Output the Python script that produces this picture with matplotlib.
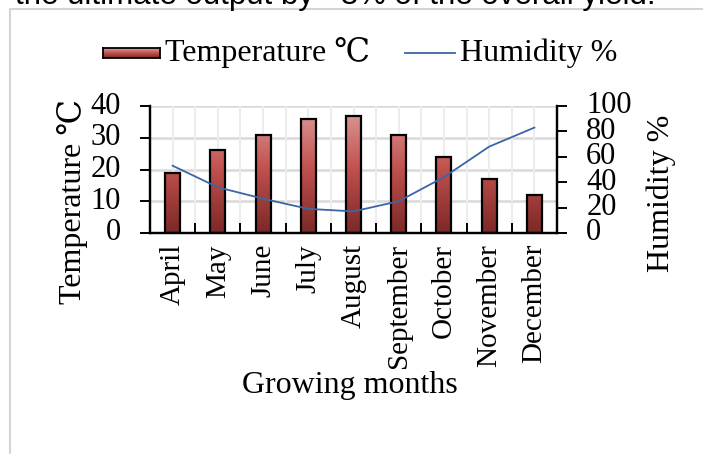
import numpy as np
import matplotlib
matplotlib.use('Agg')
from matplotlib import pyplot as plt
from matplotlib.colors import LinearSegmentedColormap
from matplotlib.lines import Line2D

# Growing season climate data
months = ['April', 'May', 'June', 'July', 'August',
          'September', 'October', 'November', 'December']
temperature = [19, 26, 31, 36, 37, 31, 24, 17, 12]
humidity = [53, 36, 27, 19, 17, 25, 44, 68, 83]

temp_ticks = [0, 10, 20, 30, 40]
hum_ticks = [0, 20, 40, 60, 80, 100]

serif = ['Liberation Serif', 'DejaVu Serif']
plt.rcParams['font.family'] = serif
fs = 23

fig = plt.figure(figsize=(7.03, 4.54), dpi=100)

# page text above the chart box and the box outline
fig.text(0.021, 1 - 4 / 454, 'the ultimate output by ~3% of the overall yield.',
         family='Liberation Sans', fontsize=22.5, va='baseline', ha='left')
fig.add_artist(Line2D([9.5 / 703, 9.5 / 703, 1.0], [0.0, 1 - 8.5 / 454, 1 - 8.5 / 454],
                      color='#d4d4d4', lw=1.5, transform=fig.transFigure))

ax = fig.add_axes([150 / 703, 1 - 233 / 454, 407 / 703, 127 / 454])
ax2 = ax.twinx()

x = np.arange(len(months))
width = 0.33

# gradient filled bars
grad = LinearSegmentedColormap.from_list('bar', ['#7b2927', '#c0504d', '#dd9d9b'])
ramp = np.linspace(0, 1, 64).reshape(-1, 1)
bars = ax.bar(x, temperature, width, facecolor='none', edgecolor='black',
              linewidth=1.6, zorder=3)
for b in bars:
    x0 = b.get_x()
    img = ax.imshow(ramp, cmap=grad, origin='lower',
                    extent=[x0, x0 + b.get_width(), 0, 40], aspect='auto', zorder=2)
    img.set_clip_path(b)

ax2.plot(x, humidity, color='#3a66a6', lw=1.3, zorder=4)

ax.set_xlim(-0.5, len(months) - 0.5)
ax.set_ylim(0, 40)
ax2.set_ylim(0, 100)
ax.set_yticks(temp_ticks)
ax2.set_yticks(hum_ticks)

# grid lines: horizontal majors plus vertical lines every half category
for v in temp_ticks[1:]:
    ax.axhline(v, color='#d9d9d9', lw=1.8, zorder=0)
for v in np.arange(-0.5, len(months), 0.5)[1:]:
    ax.axvline(v, color='#ececec', lw=1.5, zorder=0)

ax.set_xticks(x)
ax.set_xticklabels(months, rotation=90, fontsize=21)
ax.tick_params(axis='x', length=0, pad=8)
ax.set_xticks(np.arange(0.5, len(months) - 1, 1), minor=True)
ax.tick_params(axis='x', which='minor', direction='in', length=7, width=1.4)
ax.tick_params(axis='y', direction='out', length=7, width=1.4, pad=14, labelsize=22)
ax2.tick_params(axis='y', direction='out', length=7, width=1.4, pad=14, labelsize=22)
for lbl in ax.get_yticklabels() + ax2.get_yticklabels():
    lbl.set_verticalalignment('center')

for a in (ax, ax2):
    a.spines['top'].set_visible(False)
    for s in ('left', 'right', 'bottom'):
        a.spines[s].set_linewidth(1.6)
ax.set_zorder(ax2.get_zorder() - 1)
ax2.patch.set_visible(False)
ax.patch.set_visible(False)

fig.text(72 / 703, 1 - 202 / 454, 'Temperature ℃', rotation=90, fontsize=fs,
         ha='center', va='center')
fig.text(661 / 703, 1 - 193 / 454, 'Humidity %', rotation=90, fontsize=fs,
         ha='center', va='center')
fig.text(350 / 703, 1 - 385 / 454, 'Growing months', fontsize=fs,
         ha='center', va='center')

# legend: small gradient swatch, then the line key
ly = 1 - 53 / 454
key = fig.add_axes([103 / 703, ly - 5 / 454, 57 / 703, 10 / 454])
key.imshow(ramp, cmap=grad, origin='lower', aspect='auto', extent=[0, 1, 0, 1])
key.set_xticks([])
key.set_yticks([])
for s in key.spines.values():
    s.set_linewidth(1.3)
fig.text(165 / 703, ly, 'Temperature ℃', fontsize=fs, va='center', ha='left')
fig.add_artist(Line2D([405 / 703, 455 / 703], [ly, ly], color='#3a66a6', lw=1.3,
                      transform=fig.transFigure))
fig.text(460 / 703, ly, 'Humidity %', fontsize=fs, va='center', ha='left')

fig.savefig('out.png', dpi=100)
